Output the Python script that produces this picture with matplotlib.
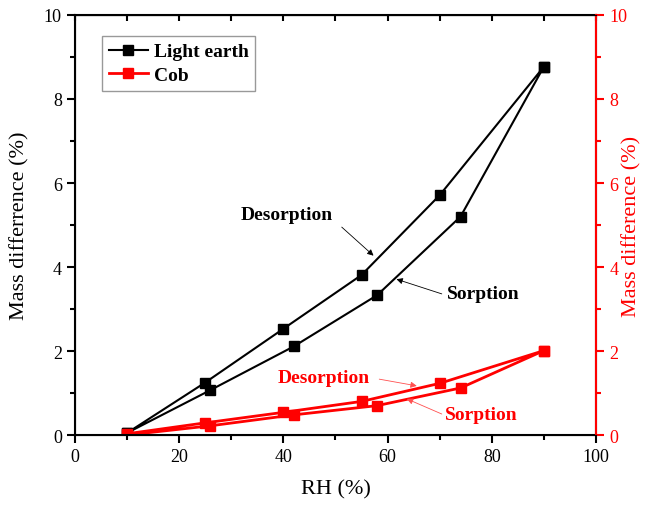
import matplotlib.pyplot as plt
from matplotlib.ticker import MultipleLocator

plt.rcParams["font.family"] = ["Liberation Serif", "DejaVu Serif"]

# sorption branch (increasing RH) then desorption branch (decreasing RH)
rh_sorp = [10, 26, 42, 58, 74, 90]
rh_desorp = [90, 70, 55, 40, 25, 10]

light_sorp = [0.05, 1.07, 2.11, 3.33, 5.20, 8.77]
light_desorp = [8.77, 5.71, 3.81, 2.53, 1.25, 0.05]

cob_sorp = [0.0, 0.22, 0.48, 0.70, 1.12, 2.01]
cob_desorp = [2.01, 1.23, 0.80, 0.54, 0.29, 0.03]

fig = plt.figure(figsize=(6.51, 5.06), dpi=100)
ax = fig.add_axes([0.1152, 0.1383, 0.8003, 0.8301])

ax.plot(rh_sorp + rh_desorp, light_sorp + light_desorp, color="black",
        lw=1.5, marker="s", ms=7, label="Light earth")
ax.plot(rh_sorp + rh_desorp, cob_sorp + cob_desorp, color="red",
        lw=2, marker="s", ms=7, label="Cob")

ax.set_xlim(0, 100)
ax.set_ylim(0, 10)
ax.xaxis.set_major_locator(MultipleLocator(20))
ax.xaxis.set_minor_locator(MultipleLocator(10))
ax.yaxis.set_major_locator(MultipleLocator(2))
ax.yaxis.set_minor_locator(MultipleLocator(1))
ax.tick_params(which="major", direction="out", length=6, width=1.5, labelsize=13)
ax.tick_params(which="minor", direction="out", length=3.5, width=1.5)
for s in ax.spines.values():
    s.set_linewidth(1.5)

top = ax.secondary_xaxis("top")
top.xaxis.set_major_locator(MultipleLocator(10))
top.tick_params(direction="in", length=4, width=1.5, labeltop=False)

ax.set_xlabel("RH (%)", fontsize=16, labelpad=10)
ax.set_ylabel("Mass differrence (%)", fontsize=16)
ax.yaxis.set_label_coords(-0.088, 0.5)

ax2 = ax.twinx()
ax2.set_ylim(0, 10)
ax2.yaxis.set_major_locator(MultipleLocator(2))
ax2.yaxis.set_minor_locator(MultipleLocator(1))
ax2.tick_params(which="major", direction="out", length=6, width=1.5,
                colors="red", labelsize=13)
ax2.tick_params(which="minor", direction="out", length=3.5, width=1.5, colors="red")
ax2.spines["right"].set_color("red")
ax2.spines["right"].set_linewidth(1.5)
ax2.set_ylabel("Mass difference (%)", fontsize=16, color="red")
ax2.yaxis.set_label_coords(1.05, 0.5)

leg = ax.legend(loc="upper left", bbox_to_anchor=(0.052, 0.95), borderaxespad=0,
                frameon=True, fancybox=False, edgecolor="gray", handlelength=2.0,
                handletextpad=0.3,
                prop={"weight": "bold", "size": 14}, borderpad=0.35,
                labelspacing=0.3)
leg.get_frame().set_linewidth(1)

arw = dict(arrowstyle="-|>", lw=0.6, mutation_scale=9, shrinkA=0, shrinkB=0)
txt = dict(fontsize=14, fontweight="bold", ha="center", va="center")

# black labels and arrows
ax.text(40.7, 5.26, "Desorption", **txt)
ax.annotate("", xy=(57.3, 4.27), xytext=(51.2, 4.95),
            arrowprops=dict(arw, color="black"))
ax.text(78.3, 3.38, "Sorption", **txt)
ax.annotate("", xy=(61.7, 3.71), xytext=(70.4, 3.36),
            arrowprops=dict(arw, color="black"))

# red labels and arrows
ax.text(47.8, 1.36, "Desorption", color="red", **txt)
ax.annotate("", xy=(65.6, 1.17), xytext=(58.4, 1.33),
            arrowprops=dict(arw, color="#ff5050"))
ax.text(78.0, 0.5, "Sorption", color="red", **txt)
ax.annotate("", xy=(63.7, 0.86), xytext=(70.4, 0.5),
            arrowprops=dict(arw, color="#ff5050"))

fig.savefig("out.png", dpi=100)
